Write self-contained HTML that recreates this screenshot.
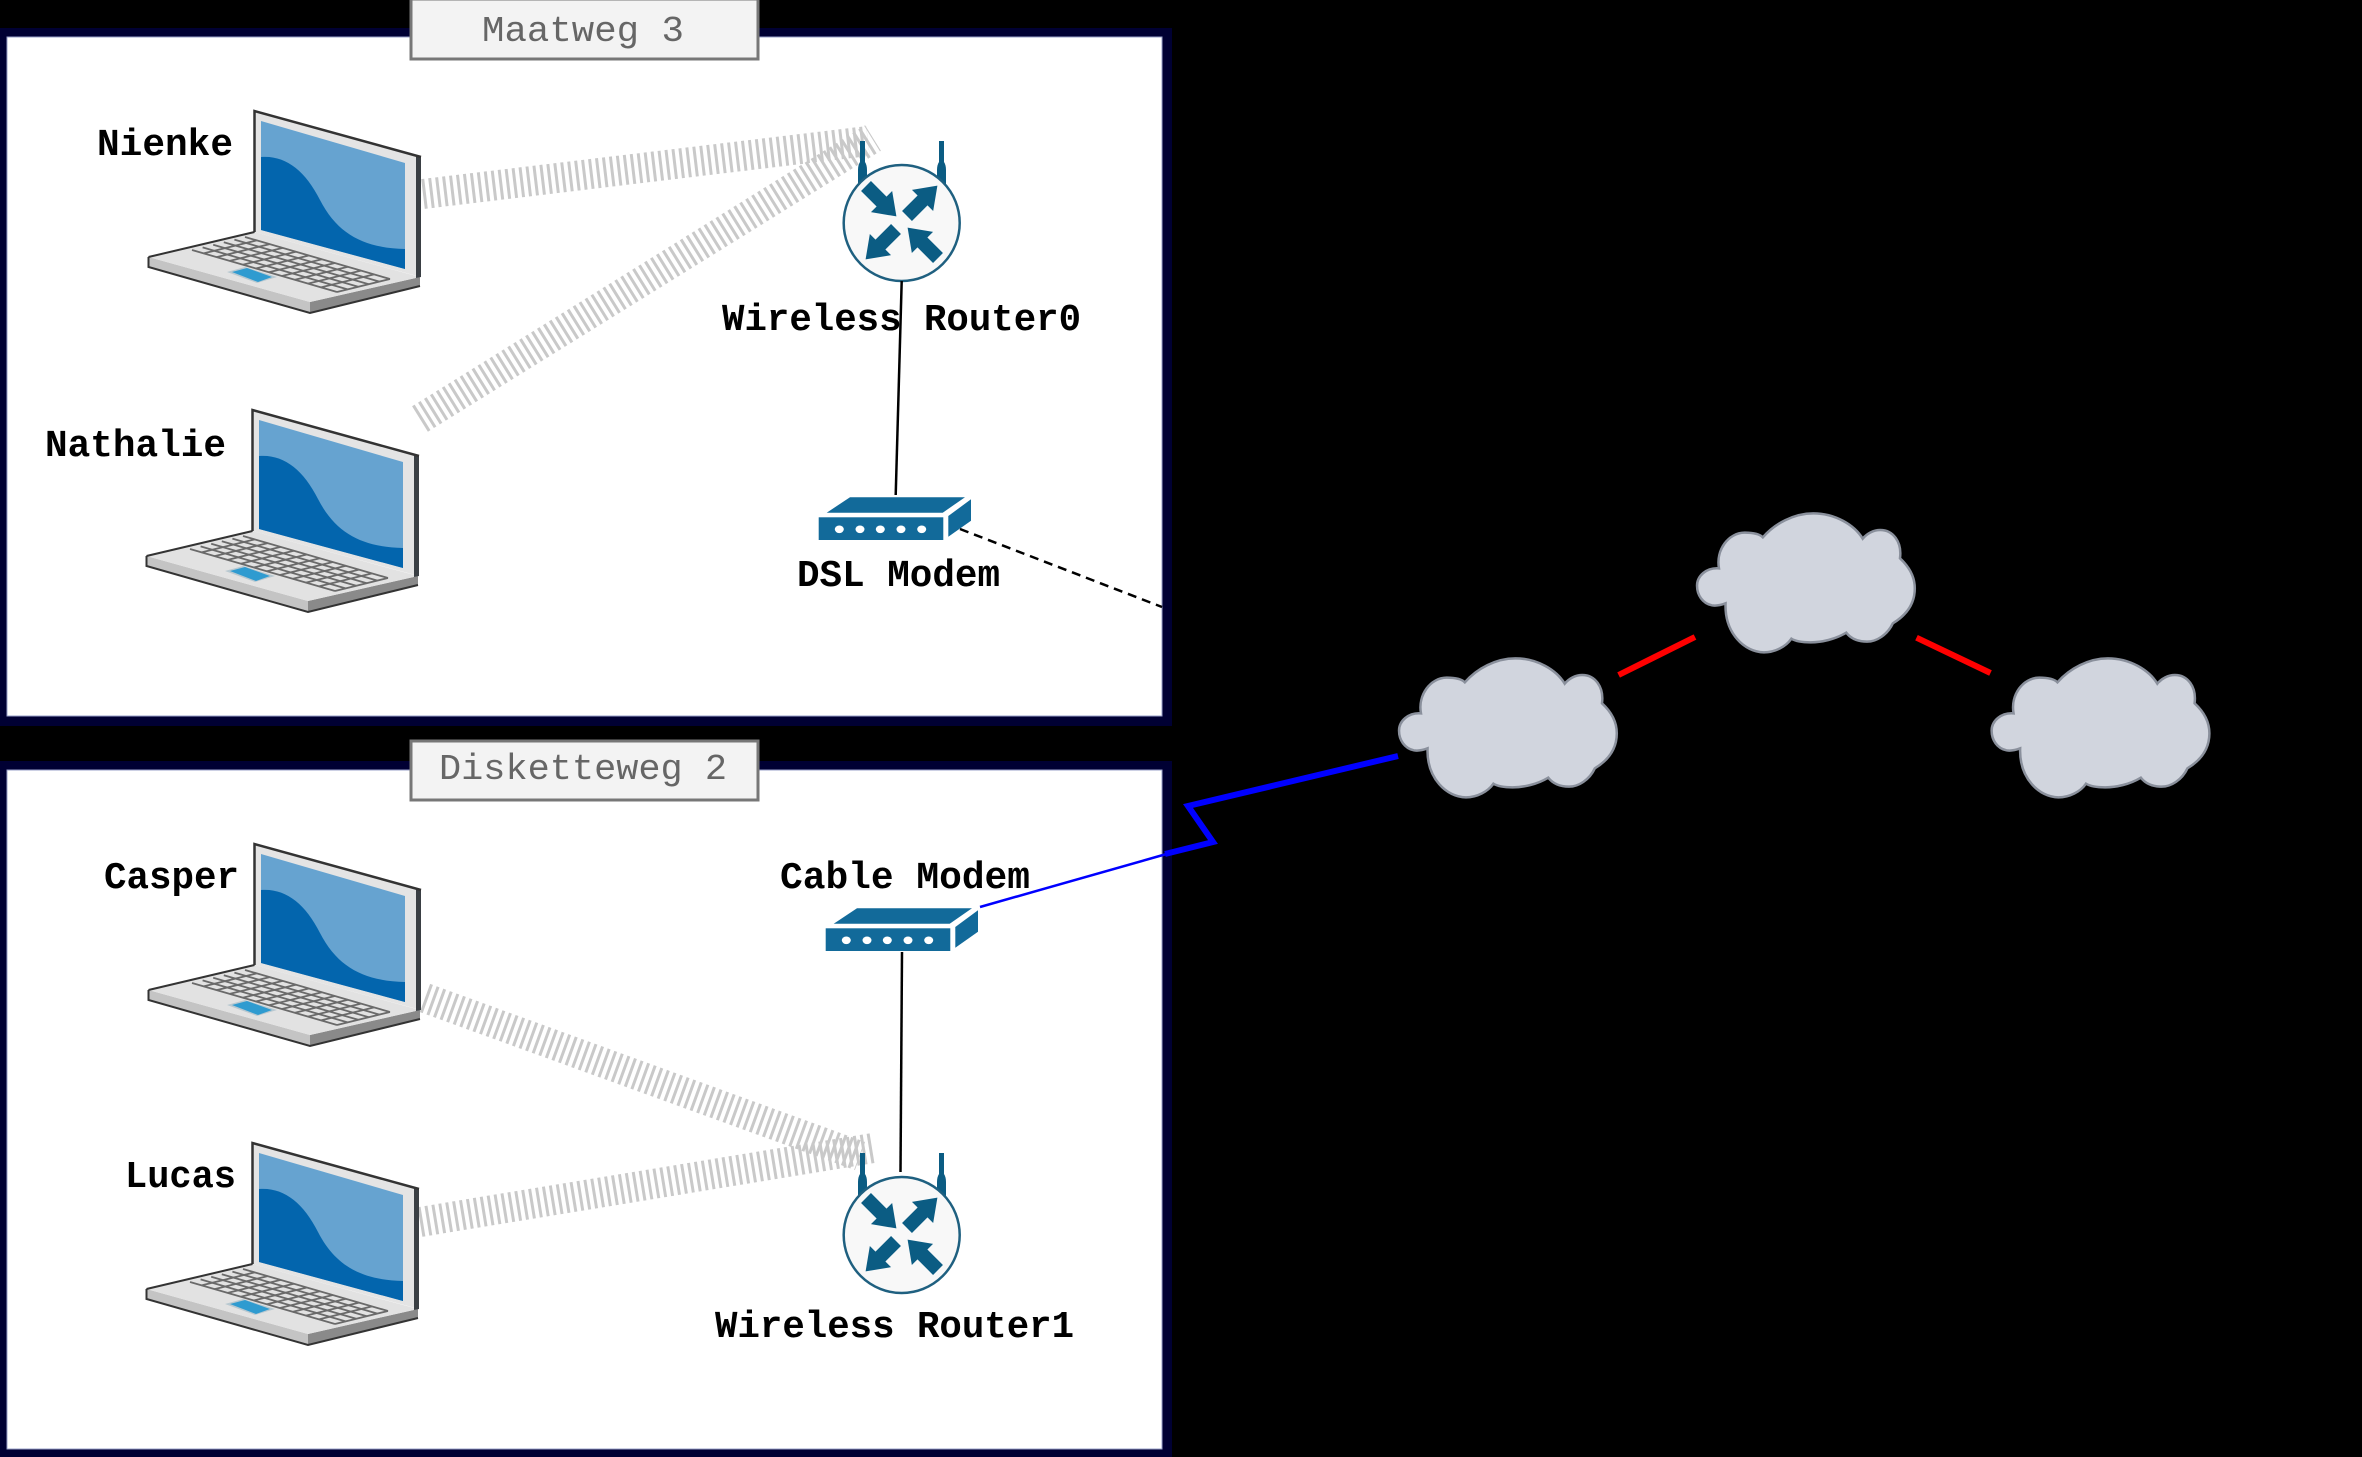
<!DOCTYPE html>
<html><head><meta charset="utf-8"><style>
html,body{margin:0;padding:0;background:#000;width:2362px;height:1457px;overflow:hidden}
svg{display:block}
text{font-family:"Liberation Mono",monospace}
.b{font-weight:bold;font-size:38px;fill:#000}
.h{font-size:36px;fill:#666}
</style></head><body>
<svg xmlns="http://www.w3.org/2000/svg" width="2362" height="1457" viewBox="0 0 2362 1457">
<defs>
<g id="laptop">
<polygon points="148.5,257 148.5,267 310,313 310,302" fill="#c4c4c4"/>
<polygon points="310,302 310,313 420,286 420,277" fill="#8a8a8a"/>
<polygon points="148.5,257 254.5,232 420,277 310,302" fill="#e2e2e2"/>
<polyline points="148.5,257 148.5,267 310,313 420,286" fill="none" stroke="#333" stroke-width="2"/>
<polyline points="148.5,257 254.5,232" fill="none" stroke="#333" stroke-width="2"/>
<polygon points="254.5,111 421,157 421,277 254.5,232" fill="#e4e4e4"/>
<polygon points="416,155.5 421,157 421,277 416,278" fill="#3a3f44"/>
<polyline points="254.5,232 254.5,111 421,157" fill="none" stroke="#333" stroke-width="2.5"/>
<polygon points="261,121 405,163 405,269 261,230" fill="#66a3d0"/>
<path d="M261 157C285 155 305 170 320 200C338 235 365 248 405 249L405 269L261 230Z" fill="#0365ad"/>
<g stroke="#6a6a6a" stroke-width="1.8" fill="none">
<path d="M192 250L337 292M202.6 247.4L347.6 289.4M213.2 244.8L358.2 286.8M223.8 242.2L368.8 284.2M234.4 239.6L379.4 281.6M245 237L390 279"/>
<path d="M203.6 253.4L256.6 240.4M216.7 257.1L269.7 244.1M229.7 260.9L282.7 247.9M242.8 264.7L295.8 251.7M255.8 268.5L308.8 255.5M268.9 272.3L321.9 259.3M281.9 276L334.9 263M295 279.8L348 266.8M308 283.6L361 270.6M321 287.4L374 274.4M337 292L390 279"/>
</g>
<polygon points="227,272 245,267 277,277 257,283" fill="#b8c8d0"/>
<polygon points="232,272 247,268 272,277 258,282" fill="#2f9bd0"/>
</g>
<polygon id="arr" points="0,-7 22,-7 22,-15 43,0 22,15 22,7 0,7" fill="#0b5c83"/>
<g id="router">
<path d="M858 190V170Q858 165 860 162V141H865V162Q867 165 867 170V190Z" fill="#0b5c83"/>
<path d="M937 190V170Q937 165 939 162V141H944V162Q946 165 946 170V190Z" fill="#0b5c83"/>
<circle cx="901.7" cy="223" r="58" fill="#f8f8f8" stroke="#1f6080" stroke-width="2.5"/>
<use href="#arr" transform="translate(866,186) rotate(45)"/>
<use href="#arr" transform="translate(907,216) rotate(-45)"/>
<use href="#arr" transform="translate(896,229) rotate(135)"/>
<use href="#arr" transform="translate(938,258) rotate(-135)"/>
</g>
<g id="modem" fill="#126a9a">
<polygon points="826.7,512.7 850,497.3 965,497.3 942.7,512.7"/>
<rect x="818.7" y="517.3" width="124.6" height="22.7"/>
<polygon points="948.3,516 971,499.3 971,520.7 948.3,536.7"/>
<g fill="#fff">
<ellipse cx="839.3" cy="529.3" rx="4.5" ry="3.8"/><ellipse cx="860" cy="529.3" rx="4.5" ry="3.8"/><ellipse cx="880.3" cy="529.3" rx="4.5" ry="3.8"/><ellipse cx="901" cy="529.3" rx="4.5" ry="3.8"/><ellipse cx="921.7" cy="529.3" rx="4.5" ry="3.8"/>
</g>
</g>
<path id="cloud" vector-effect="non-scaling-stroke" fill="#d1d5de" stroke="#8a909c" stroke-width="2.5" d="M618 235C612 180 635 128 665 128C680 128 692 132 698 142C720 100 755 70 790 70C830 70 865 105 880 146C888 130 900 120 912 120C935 120 952 155 948 205C968 235 975 265 975 295C975 340 960 375 935 400C925 435 905 455 888 455C870 455 858 445 850 428C830 448 805 457 785 457C770 457 758 454 750 446C740 470 720 487 700 487C665 487 628 430 630 340C622 345 612 348 605 346C588 340 578 315 578 287C578 258 595 232 618 235Z"/>
</defs>

<rect x="0" y="28" width="1172" height="698" fill="#000033"/>
<rect x="7" y="37" width="1155" height="679" fill="#fff" stroke="#9aa0c8" stroke-width="1"/>
<rect x="0" y="761" width="1172" height="696" fill="#000033"/>
<rect x="7" y="770" width="1155" height="679" fill="#fff" stroke="#9aa0c8" stroke-width="1"/>

<g fill="none" stroke="#c9c9c9" stroke-width="30" stroke-dasharray="3 4">
<line x1="423" y1="194" x2="868" y2="141"/>
<line x1="420" y1="419" x2="873" y2="138"/>
<line x1="425" y1="998" x2="860" y2="1156"/>
<line x1="420" y1="1222" x2="873" y2="1148"/>
</g>

<use href="#laptop"/>
<use href="#laptop" transform="translate(-2,299)"/>
<use href="#laptop" transform="translate(0,733)"/>
<use href="#laptop" transform="translate(-2,1032)"/>

<use href="#router"/>
<use href="#router" transform="translate(0,1012)"/>
<use href="#modem"/>
<use href="#modem" transform="translate(7,411)"/>

<line x1="901.7" y1="281" x2="895.7" y2="495" stroke="#000" stroke-width="2.5"/>
<line x1="902" y1="952" x2="900.5" y2="1172" stroke="#000" stroke-width="2.5"/>
<line x1="960" y1="529" x2="1162" y2="607" stroke="#000" stroke-width="2.5" stroke-dasharray="9 6"/>
<line x1="980" y1="907" x2="1170" y2="853" stroke="#0000ff" stroke-width="2.5"/>
<polyline points="1165,854 1213,842 1188,806 1398,756" fill="none" stroke="#0000ff" stroke-width="6"/>
<line x1="1618.6" y1="675" x2="1695" y2="637" stroke="#ff0000" stroke-width="6"/>
<line x1="1916.5" y1="637.7" x2="1990.5" y2="673" stroke="#ff0000" stroke-width="6"/>

<use href="#cloud" transform="translate(1380,490) scale(.5485,.3333)"/>
<use href="#cloud" transform="translate(1082,635) scale(.5485,.3333)"/>
<use href="#cloud" transform="translate(1674.6,635) scale(.5485,.3333)"/>

<rect x="411" y="-1" width="347" height="60" fill="#f3f3f3" stroke="#777" stroke-width="3"/>
<rect x="411" y="741" width="347" height="59" fill="#f3f3f3" stroke="#777" stroke-width="3"/>
<text class="h" x="482" y="41" textLength="202" lengthAdjust="spacingAndGlyphs">Maatweg 3</text>
<text class="h" x="439" y="779" textLength="288" lengthAdjust="spacingAndGlyphs">Disketteweg 2</text>

<text class="b" x="97" y="155" textLength="136" lengthAdjust="spacingAndGlyphs">Nienke</text>
<text class="b" x="45" y="456" textLength="181" lengthAdjust="spacingAndGlyphs">Nathalie</text>
<text class="b" x="722" y="330" textLength="359" lengthAdjust="spacingAndGlyphs">Wireless Router0</text>
<text class="b" x="797" y="586" textLength="203" lengthAdjust="spacingAndGlyphs">DSL Modem</text>
<text class="b" x="104" y="888" textLength="135" lengthAdjust="spacingAndGlyphs">Casper</text>
<text class="b" x="780" y="888" textLength="250" lengthAdjust="spacingAndGlyphs">Cable Modem</text>
<text class="b" x="125" y="1187" textLength="111" lengthAdjust="spacingAndGlyphs">Lucas</text>
<text class="b" x="715" y="1337" textLength="359" lengthAdjust="spacingAndGlyphs">Wireless Router1</text>
</svg>
</body></html>
